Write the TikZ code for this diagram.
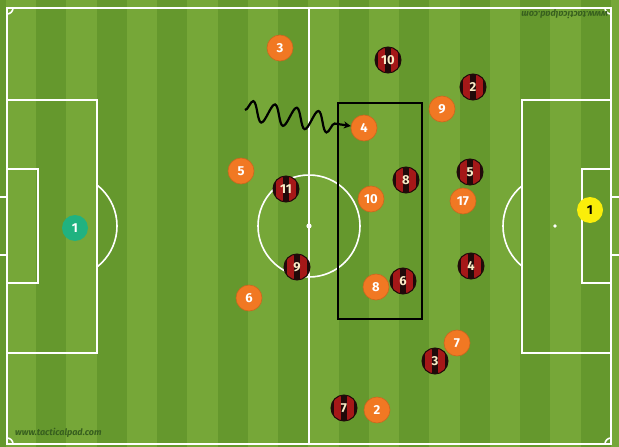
\documentclass[tikz,border=0pt]{standalone}
\usepackage{fontspec}
\setmainfont{Fira Sans}
\usetikzlibrary{arrows.meta,decorations.pathmorphing,positioning}
\definecolor{grasslight}{RGB}{118,167,56}
\definecolor{grassdark}{RGB}{101,152,45}
\definecolor{homeorange}{RGB}{241,120,35}
\definecolor{awayred}{RGB}{165,24,24}
\definecolor{awayblack}{RGB}{32,10,10}
\definecolor{awaytext}{RGB}{250,236,200}
\definecolor{keepergreen}{RGB}{32,178,128}
\definecolor{keeperyellow}{RGB}{250,238,10}
\definecolor{markgreen}{RGB}{55,95,30}
\tikzset{%
	line/.style    = {draw=white, line width=1.6pt}, % pitch marking
	player/.style  = {circle, minimum size=26pt, inner sep=0pt, font=\bfseries\fontsize{13}{13}\selectfont},
	home/.style    = {player, fill=homeorange, text=white, draw=homeorange!85!black, line width=0.6pt}, % orange side
	away/.style    = {player, fill=awayblack, text=awaytext, draw=awayblack, line width=1pt,
		path picture={\foreach \s in {-6.5,6.5}
			\fill[awayred] ([xshift=\s pt-3.2pt]path picture bounding box.south) rectangle ([xshift=\s pt+3.2pt]path picture bounding box.north);}}, % striped side
	keeperL/.style = {player, fill=keepergreen, text=white},
	keeperR/.style = {player, fill=keeperyellow, text=black},
	zone/.style    = {draw=black, line width=2.6pt},
	run/.style     = {line width=2.2pt, decorate, decoration={snake, segment length=22pt, amplitude=10pt, post length=12pt}, -{Stealth[length=7pt,width=7pt]}},
	stamp/.style   = {text=markgreen, inner sep=0pt, font=\bfseries\itshape\fontsize{9}{9}\selectfont},
}
\begin{document}
\begin{tikzpicture}[x=1pt,y=-1pt]
	\useasboundingbox (0,0) rectangle (619,447);
	% grass
	\fill[grasslight] (0,0) rectangle (619,447);
	\foreach \k in {-1,...,9}
		\fill[grassdark] ({36+60.5*\k},0) rectangle ({66.25+60.5*\k},447);
	
	% pitch
	\draw[line] (7,8) rectangle (611,444);
	\draw[line] (309,8) -- (309,444);
	\draw[line] (309,226) circle (51);
	\fill[white] (309,226) circle (2.6);
	\draw[line] (7,100) rectangle (97,353);
	\draw[line] (7,169) rectangle (38,283);
	\draw[line] (0,197) -- (7,197) (0,255) -- (7,255);
	\fill[white] (65,226) circle (1.8);
	\draw[line] (522,100) rectangle (611,353);
	\draw[line] (582,169) rectangle (611,283);
	\draw[line] (611,197) -- (619,197) (611,255) -- (619,255);
	\fill[white] (555,226) circle (1.8);
	\begin{scope}
		\clip (97,0) rectangle (200,447);
		\draw[line] (65,226) circle (52);
	\end{scope}
	\begin{scope}
		\clip (420,0) rectangle (522,447);
		\draw[line] (555,226) circle (52);
	\end{scope}
	\begin{scope}
		\clip (7,8) rectangle (611,444);
		\draw[line] (7,8) circle (6) (611,8) circle (6) (7,444) circle (6) (611,444) circle (6);
	\end{scope}
	
	\node[stamp, anchor=west] (logoA) at (15,433) {www.tacticalpad.com};
	\node[stamp, anchor=west, rotate=180] (logoB) at (608,14) {www.tacticalpad.com};
	
	\draw[zone] (338,103) rectangle (422,319);
	
	% orange side
	\node[home] (h3) at (280,48) {3};
	\node[home] (h9) at (442,109) {9};
	\node[home] (h4) at (364,128) {4};
	\node[home] (h5) at (241,171) {5};
	\node[home] (h10) at (371,199) {10};
	\node[home] (h17) at (463,201) {17};
	\node[home] (h6) at (249,298) {6};
	\node[home] (h8) at (376,287) {8};
	\node[home] (h7) at (457,343) {7};
	\node[home] (h2) at (377,410) {2};
	% striped side
	\node[away] (a10) at (388,60) {10};
	\node[away] (a2) at (473,87) {2};
	\node[away] (a11) at (286,189) {11};
	\node[away] (a8) at (406,180) {8};
	\node[away] (a5) at (470,172) {5};
	\node[away] (a9) at (297,267) {9};
	\node[away] (a6) at (403,281) {6};
	\node[away] (a4) at (471,266) {4};
	\node[away] (a3) at (435,361) {3};
	\node[away] (a7) at (344,408) {7};
	% keepers
	\node[keeperL] (kL) at (75,228) {1};
	\node[keeperR] (kR) at (590,210) {1};
	
	\coordinate (runstart) at (245,110);
	\draw[run] (runstart) -- (h4);
\end{tikzpicture}
\end{document}
